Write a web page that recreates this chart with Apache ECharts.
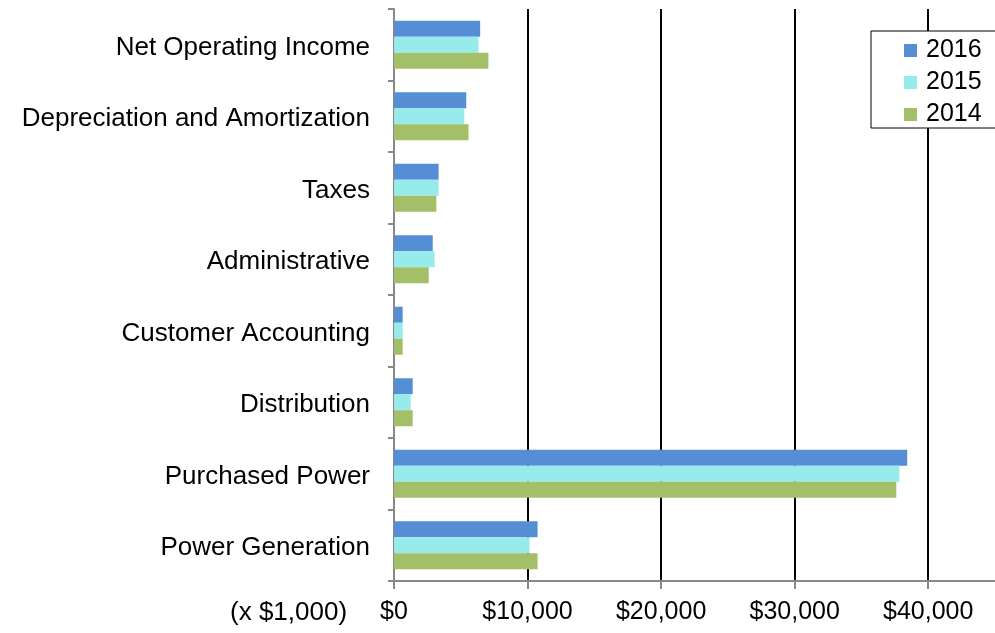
<!DOCTYPE html>
<html>
<head>
<meta charset="utf-8">
<script src="https://cdn.jsdelivr.net/npm/echarts@6/dist/echarts.min.js"></script>
<style>
    html, body { margin: 0; padding: 0; background: #fff; }
    #chart { width: 995px; height: 633px; }
</style>
</head>
<body>
<div id="chart"></div>
<script>
// categories, bottom to top
var categories = ['Power Generation', 'Purchased Power', 'Distribution', 'Customer Accounting',
    'Administrative', 'Taxes', 'Depreciation and Amortization', 'Net Operating Income'];

// values (x $1,000)
var data2016 = [10750, 38430, 1400, 650, 2900, 3340, 5410, 6450];
var data2015 = [10150, 37840, 1250, 650, 3040, 3340, 5260, 6330];
var data2014 = [10750, 37610, 1400, 650, 2600, 3170, 5580, 7070];

var xTicks = [0, 10000, 20000, 30000, 40000];

var chart = echarts.init(document.getElementById('chart'));

function money(v) {
    return '$' + v.toString().replace(/\B(?=(\d{3})+(?!\d))/g, ',');
}

var font = 'Liberation Sans, Arial, sans-serif';

var option = {
    animation: false,
    textStyle: { fontFamily: font },
    grid: {
        left: 394,
        right: -3,
        top: 9,
        bottom: 52
    },
    legend: {
        orient: 'vertical',
        left: 871,
        top: 31,
        data: ['2016', '2015', '2014'],
        icon: 'rect',
        itemWidth: 13,
        itemHeight: 13,
        itemGap: 7,
        padding: [7, 60, 1, 33],
        backgroundColor: '#fff',
        borderColor: '#000',
        borderWidth: 1,
        borderRadius: 0,
        textStyle: { fontSize: 25, lineHeight: 25, color: '#000', fontFamily: font, padding: [0, 0, 0, 4] }
    },
    xAxis: {
        type: 'value',
        min: 0,
        max: 45000,
        interval: 10000,
        axisLine: { show: true, lineStyle: { color: '#888', width: 2 } },
        axisTick: { show: true, length: 8, lineStyle: { color: '#888', width: 2 } },
        axisLabel: {
            fontSize: 25,
            color: '#000',
            margin: 19,
            showMaxLabel: false,
            formatter: function(v) {
                return xTicks.indexOf(v) >= 0 ? money(v) : '';
            }
        },
        splitLine: { show: true, showMaxLine: false, lineStyle: { color: '#000', width: 2 } }
    },
    yAxis: {
        type: 'category',
        data: categories,
        axisLine: { lineStyle: { color: '#888', width: 2 } },
        axisTick: { show: true, length: 6, lineStyle: { color: '#888', width: 2 } },
        axisLabel: {
            color: '#000',
            margin: 24,
            formatter: '{a|{value}}',
            rich: {
                a: { fontSize: 26, color: '#000', fontFamily: font, padding: [6, 0, 0, 0] }
            }
        },
        splitLine: { show: false }
    },
    graphic: [{
        type: 'text',
        left: 230,
        top: 600,
        style: { text: '(x $1,000)', fontSize: 26, fill: '#000', fontFamily: font }
    }],
    series: [{
        name: '2016',
        type: 'bar',
        data: data2016,
        barWidth: 16,
        barGap: '0%',
        barCategoryGap: '33%',
        itemStyle: { color: '#558ED5' }
    }, {
        name: '2015',
        type: 'bar',
        data: data2015,
        barWidth: 16,
        itemStyle: { color: '#97EBEB' }
    }, {
        name: '2014',
        type: 'bar',
        data: data2014,
        barWidth: 16,
        itemStyle: { color: '#A3BF68' }
    }]
};

chart.setOption(option);
</script>
</body>
</html>
